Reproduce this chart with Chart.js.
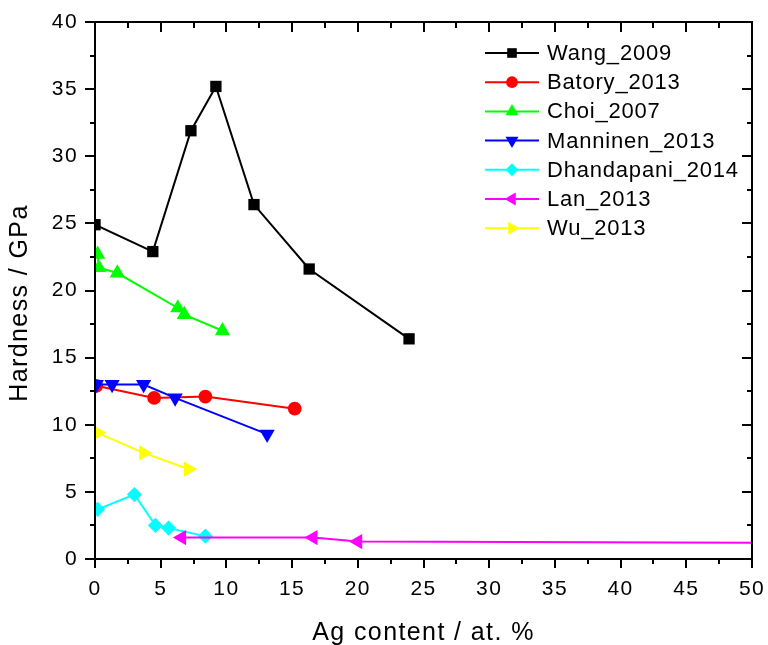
<!DOCTYPE html>
<html>
<head>
<meta charset="utf-8">
<title>Hardness vs Ag content</title>
<script src="https://cdn.jsdelivr.net/npm/chart.js"></script>
<style>
    html, body { margin: 0; padding: 0; background: #fff; }
    #wrap { width: 768px; height: 645px; }
</style>
</head>
<body>
<div id="wrap"><canvas id="hardnessChart" width="768" height="645"></canvas></div>
<script>
// --- Data ---
const wangX = [0, 4.4, 7.3, 9.2, 12.1, 16.3, 23.9];
const wangY = [24.9, 22.9, 31.9, 35.2, 26.4, 21.6, 16.4];

const batoryX = [0.1, 4.5, 8.4, 15.2];
const batoryY = [12.9, 12.0, 12.1, 11.2];

const choiX = [0.2, 0.3, 1.7, 6.3, 6.8, 9.7];
const choiY = [22.7, 21.7, 21.3, 18.7, 18.2, 17.0];

const manninenX = [0.1, 1.3, 3.7, 6.1, 13.1];
const manninenY = [13.0, 13.0, 13.0, 12.0, 9.3];

const dhandapaniX = [0.2, 3.0, 4.6, 5.6, 8.4];
const dhandapaniY = [3.7, 4.8, 2.5, 2.3, 1.7];

// last Lan point lies beyond the 50 at.% axis limit (line runs off the plot)
const lanX = [6.6, 16.6, 20.0, 60];
const lanY = [1.6, 1.6, 1.3, 1.17];

const wuX = [0.2, 3.7, 7.1];
const wuY = [9.4, 7.9, 6.7];

const seriesNames = ['Wang_2009', 'Batory_2013', 'Choi_2007', 'Manninen_2013', 'Dhandapani_2014', 'Lan_2013', 'Wu_2013'];
const xTicks = [0, 5, 10, 15, 20, 25, 30, 35, 40, 45, 50];
const yTicks = [0, 5, 10, 15, 20, 25, 30, 35, 40];

document.addEventListener('DOMContentLoaded', () => {

    const FONT = "'Liberation Sans', Arial, sans-serif";

    const toPoints = (xs, ys) => xs.map((x, i) => ({ x: x, y: ys[i] }));

    // marker look per series (Origin style)
    const styles = [
        { color: '#000000', pointStyle: 'rect', radius: 8, rotation: 0 },
        { color: '#ff0000', pointStyle: 'circle', radius: 6.9, rotation: 0 },
        { color: '#00ff00', pointStyle: 'triangle', radius: 8.8, rotation: 0 },
        { color: '#0000ff', pointStyle: 'triangle', radius: 8.8, rotation: 180 },
        { color: '#00ffff', pointStyle: 'rectRot', radius: 7.6, rotation: 0 },
        { color: '#ff00ff', pointStyle: 'triangle', radius: 8.8, rotation: 270 },
        { color: '#ffff00', pointStyle: 'triangle', radius: 8.8, rotation: 90 }
    ];

    const seriesData = [
        toPoints(wangX, wangY),
        toPoints(batoryX, batoryY),
        toPoints(choiX, choiY),
        toPoints(manninenX, manninenY),
        toPoints(dhandapaniX, dhandapaniY),
        toPoints(lanX, lanY),
        toPoints(wuX, wuY)
    ];

    const datasets = seriesNames.map((name, i) => ({
        label: name,
        data: seriesData[i],
        borderColor: styles[i].color,
        backgroundColor: styles[i].color,
        borderWidth: 2,
        pointStyle: styles[i].pointStyle,
        pointRadius: styles[i].radius,
        pointRotation: styles[i].rotation,
        pointBorderWidth: 0,
        pointBackgroundColor: styles[i].color,
        tension: 0,
        clip: 0,
        order: -i
    }));

    // Origin's text is a bit wider than Liberation Sans
    const spacingPlugin = {
        id: 'spacing',
        beforeDraw(chart) {
            chart.ctx.letterSpacing = '1.4px';
        }
    };

    // --- Frame with major + minor ticks ---
    const framePlugin = {
        id: 'frame',
        afterDraw(chart) {
            const { ctx, chartArea: a, scales } = chart;
            const xs = scales.x, ys = scales.y;
            ctx.save();
            ctx.strokeStyle = '#000';
            ctx.lineWidth = 2;
            ctx.strokeRect(a.left, a.top, a.right - a.left, a.bottom - a.top);
            ctx.beginPath();
            for (let v = xs.min; v <= xs.max + 1e-6; v += 2.5) {
                const px = Math.round(xs.getPixelForValue(v));
                const len = (v % 5 === 0) ? 9 : 5;
                ctx.moveTo(px, a.bottom); ctx.lineTo(px, a.bottom + len);
                ctx.moveTo(px, a.top); ctx.lineTo(px, a.top + len + 1);
            }
            for (let v = ys.min; v <= ys.max + 1e-6; v += 2.5) {
                const py = Math.round(ys.getPixelForValue(v));
                const len = (v % 5 === 0) ? 10 : 5;
                ctx.moveTo(a.left, py); ctx.lineTo(a.left - len, py);
                ctx.moveTo(a.right, py); ctx.lineTo(a.right - len, py);
            }
            ctx.stroke();
            ctx.restore();
        }
    };

    // --- Legend drawn inside the plot: line + marker + name ---
    const legendPlugin = {
        id: 'lineLegend',
        afterDraw(chart) {
            const ctx = chart.ctx;
            const x0 = 485, x1 = 539, xm = 512, xt = 547;
            ctx.save();
            ctx.font = '22px ' + FONT;
            ctx.letterSpacing = '0.8px';
            ctx.textBaseline = 'middle';
            ctx.textAlign = 'left';
            chart.data.datasets.forEach((ds, i) => {
                const y = 53 + i * 29.2;
                ctx.strokeStyle = ds.borderColor;
                ctx.lineWidth = 2;
                ctx.beginPath();
                ctx.moveTo(x0, y); ctx.lineTo(x1, y);
                ctx.stroke();
                ctx.fillStyle = ds.backgroundColor;
                Chart.helpers.drawPoint(ctx, {
                    pointStyle: ds.pointStyle,
                    rotation: ds.pointRotation,
                    radius: ds.pointRadius * 0.85,
                    borderWidth: 0
                }, xm, y);
                ctx.fillStyle = '#000';
                ctx.fillText(ds.label, xt, y + 1);
            });
            ctx.restore();
        }
    };

    const ctx = document.getElementById('hardnessChart').getContext('2d');
    new Chart(ctx, {
        type: 'line',
        data: { datasets: datasets },
        options: {
            responsive: false,
            animation: false,
            events: [],
            layout: { padding: { top: 22, right: 16, left: 0, bottom: 0 } },
            plugins: {
                legend: { display: false },
                tooltip: { enabled: false }
            },
            scales: {
                x: {
                    type: 'linear',
                    min: 0,
                    max: 50,
                    afterFit: (s) => { s.height = 86; s.paddingLeft = 0; s.paddingRight = 0; },
                    afterBuildTicks: (s) => { s.ticks = xTicks.map(v => ({ value: v })); },
                    grid: { display: false, drawTicks: false },
                    border: { display: false },
                    ticks: { color: '#000', padding: 18, maxRotation: 0, font: { size: 21, family: FONT } },
                    title: {
                        display: true,
                        text: 'Ag content / at. %',
                        color: '#000',
                        font: { size: 25, family: FONT },
                        padding: { top: 0, bottom: -3 }
                    }
                },
                y: {
                    type: 'linear',
                    min: 0,
                    max: 40,
                    afterFit: (s) => { s.width = 95; s.paddingTop = 0; s.paddingBottom = 0; },
                    afterBuildTicks: (s) => { s.ticks = yTicks.map(v => ({ value: v })); },
                    grid: { display: false, drawTicks: false },
                    border: { display: false },
                    ticks: { color: '#000', padding: 17, font: { size: 21, family: FONT } },
                    title: {
                        display: true,
                        text: 'Hardness / GPa   ',
                        color: '#000',
                        font: { size: 25, family: FONT },
                        padding: { top: 5, bottom: 0 }
                    }
                }
            }
        },
        plugins: [spacingPlugin, framePlugin, legendPlugin]
    });

});
</script>
</body>
</html>
